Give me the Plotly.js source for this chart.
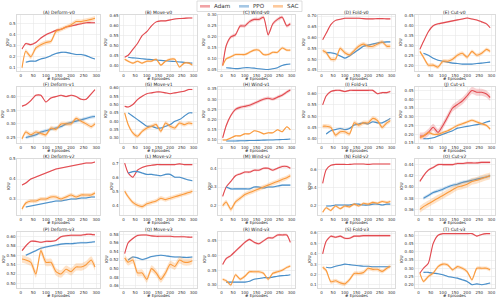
<!DOCTYPE html>
<html>
<head>
<meta charset="utf-8">
<script src="https://cdn.plot.ly/plotly-3.0.1.min.js"></script>
<style>html,body{margin:0;padding:0;background:#fff;}#chart{width:500px;height:300px;}</style>
</head>
<body>
<div id="chart"></div>
<script>
// ---------- data ----------
const episodes = [5,20,40,60,80,100,120,140,160,180,200,220,240,260,280,295];
const ppoEpisodes = [20,40,60,80,100,120,140,160,180,200,220,240,260,280,295];
const seriesNames = ['Adam','PPO','SAC'];
const panelTitles = ['(A) Deform-v0','(B) Move-v0','(C) Wind-v0','(D) Fold-v0','(E) Cut-v0',
  '(F) Deform-v1','(G) Move-v1','(H) Wind-v1','(I) Fold-v1','(J) Cut-v1',
  '(K) Deform-v2','(L) Move-v2','(M) Wind-v2','(N) Fold-v2','(O) Cut-v2',
  '(P) Deform-v3','(Q) Move-v3','(R) Wind-v3','(S) Fold-v3','(T) Cut-v3'];

const adamIoU = [
  [0.27,0.32,0.31,0.33,0.37,0.40,0.42,0.44,0.45,0.47,0.48,0.49,0.50,0.51,0.51,0.51],
  [0.44,0.45,0.48,0.51,0.55,0.57,0.60,0.62,0.625,0.625,0.63,0.635,0.637,0.638,0.64,0.64],
  [0.07,0.16,0.20,0.21,0.25,0.25,0.27,0.28,0.28,0.29,0.21,0.26,0.28,0.29,0.25,0.26],
  [0.59,0.62,0.66,0.68,0.685,0.69,0.69,0.69,0.69,0.688,0.687,0.687,0.688,0.688,0.687,0.687],
  [0.28,0.32,0.37,0.40,0.41,0.415,0.42,0.425,0.43,0.435,0.44,0.435,0.43,0.42,0.41,0.39],
  [0.365,0.37,0.385,0.405,0.405,0.38,0.395,0.40,0.405,0.40,0.405,0.40,0.39,0.39,0.41,0.425],
  [0.49,0.485,0.50,0.53,0.55,0.565,0.57,0.575,0.575,0.57,0.565,0.57,0.575,0.58,0.59,0.59],
  [0.11,0.17,0.22,0.25,0.26,0.265,0.27,0.28,0.29,0.30,0.305,0.30,0.31,0.32,0.335,0.345],
  [0.55,0.59,0.61,0.615,0.615,0.61,0.615,0.615,0.615,0.615,0.615,0.615,0.60,0.605,0.605,0.61],
  [0.19,0.19,0.21,0.24,0.21,0.25,0.30,0.35,0.37,0.39,0.42,0.45,0.44,0.44,0.43,0.41],
  [0.37,0.38,0.40,0.41,0.42,0.43,0.44,0.45,0.455,0.46,0.465,0.47,0.475,0.48,0.48,0.485],
  [0.70,0.63,0.60,0.65,0.67,0.68,0.685,0.69,0.69,0.69,0.69,0.69,0.695,0.69,0.69,0.69],
  [0.25,0.30,0.33,0.36,0.37,0.38,0.38,0.39,0.39,0.40,0.40,0.39,0.40,0.41,0.41,0.40],
  [0.45,0.60,0.65,0.66,0.66,0.66,0.66,0.665,0.665,0.665,0.66,0.665,0.665,0.665,0.665,0.665],
  [0.41,0.42,0.43,0.435,0.44,0.44,0.44,0.44,0.442,0.442,0.443,0.443,0.443,0.444,0.444,0.444],
  [0.57,0.58,0.59,0.59,0.588,0.59,0.59,0.592,0.60,0.602,0.603,0.603,0.603,0.605,0.605,0.604],
  [0.535,0.56,0.57,0.577,0.578,0.578,0.576,0.575,0.575,0.575,0.575,0.574,0.574,0.574,0.573,0.573],
  [0.37,0.39,0.40,0.415,0.43,0.445,0.455,0.445,0.44,0.45,0.46,0.46,0.47,0.47,0.47,0.445],
  [0.40,0.52,0.57,0.56,0.57,0.55,0.55,0.57,0.57,0.575,0.575,0.575,0.575,0.575,0.575,0.575],
  [0.27,0.30,0.33,0.45,0.50,0.51,0.51,0.51,0.51,0.51,0.51,0.51,0.495,0.505,0.51,0.51]
];
const ppoIoU = [
  [0.15,0.16,0.16,0.18,0.19,0.21,0.23,0.24,0.24,0.23,0.22,0.22,0.21,0.19,0.18],
  [0.44,0.437,0.435,0.432,0.43,0.428,0.426,0.424,0.422,0.42,0.418,0.416,0.414,0.412,0.41],
  [0.06,0.058,0.056,0.057,0.06,0.06,0.058,0.055,0.053,0.052,0.055,0.06,0.07,0.075,0.077],
  [0.53,0.53,0.525,0.515,0.505,0.515,0.53,0.545,0.56,0.565,0.57,0.575,0.578,0.58,0.58],
  [0.26,0.25,0.235,0.225,0.22,0.215,0.21,0.208,0.205,0.205,0.205,0.208,0.21,0.213,0.215],
  [0.25,0.255,0.26,0.27,0.275,0.28,0.285,0.29,0.30,0.305,0.31,0.315,0.32,0.325,0.327],
  [0.45,0.43,0.41,0.39,0.37,0.37,0.36,0.36,0.37,0.38,0.40,0.41,0.43,0.45,0.45],
  [0.095,0.095,0.095,0.096,0.096,0.097,0.097,0.098,0.099,0.10,0.10,0.101,0.102,0.103,0.105],
  [0.42,0.435,0.44,0.445,0.44,0.445,0.46,0.465,0.47,0.465,0.475,0.47,0.47,0.48,0.49],
  [0.175,0.175,0.18,0.19,0.20,0.21,0.22,0.235,0.24,0.245,0.25,0.255,0.26,0.27,0.275],
  [0.26,0.265,0.27,0.275,0.28,0.285,0.29,0.29,0.295,0.30,0.30,0.305,0.305,0.31,0.31],
  [0.63,0.64,0.64,0.63,0.62,0.62,0.615,0.61,0.62,0.62,0.60,0.60,0.59,0.58,0.575],
  [0.30,0.29,0.29,0.29,0.29,0.29,0.30,0.30,0.295,0.30,0.30,0.305,0.31,0.31,0.31],
  [0.20,0.20,0.21,0.21,0.21,0.21,0.22,0.22,0.21,0.21,0.22,0.22,0.21,0.22,0.22],
  [0.38,0.385,0.39,0.393,0.396,0.40,0.403,0.405,0.408,0.41,0.412,0.414,0.416,0.418,0.42],
  [0.56,0.565,0.57,0.575,0.578,0.58,0.582,0.584,0.585,0.585,0.586,0.587,0.587,0.588,0.589],
  [0.52,0.527,0.525,0.521,0.524,0.528,0.53,0.531,0.53,0.528,0.527,0.527,0.526,0.526,0.527],
  [0.31,0.31,0.31,0.31,0.31,0.313,0.32,0.322,0.325,0.325,0.327,0.33,0.332,0.333,0.335],
  [0.27,0.265,0.28,0.29,0.30,0.295,0.29,0.285,0.28,0.28,0.275,0.275,0.275,0.275,0.275],
  [0.275,0.275,0.27,0.267,0.26,0.25,0.245,0.24,0.23,0.22,0.20,0.205,0.20,0.205,0.21]
];
const sacIoU = [
  [0.10,0.25,0.20,0.28,0.31,0.33,0.34,0.43,0.45,0.47,0.49,0.52,0.52,0.53,0.54,0.55],
  [0.43,0.42,0.41,0.42,0.41,0.42,0.42,0.43,0.40,0.42,0.43,0.43,0.39,0.41,0.41,0.40],
  [0.07,0.10,0.11,0.12,0.12,0.12,0.13,0.14,0.14,0.12,0.12,0.13,0.13,0.15,0.14,0.14],
  [0.54,0.53,0.50,0.50,0.55,0.53,0.52,0.54,0.56,0.57,0.56,0.56,0.57,0.58,0.56,0.56],
  [0.27,0.24,0.20,0.20,0.19,0.22,0.22,0.23,0.25,0.26,0.24,0.27,0.25,0.26,0.28,0.27],
  [0.245,0.27,0.26,0.27,0.265,0.26,0.285,0.28,0.30,0.30,0.30,0.32,0.31,0.30,0.29,0.30],
  [0.45,0.38,0.33,0.31,0.34,0.36,0.37,0.38,0.34,0.39,0.37,0.36,0.39,0.38,0.39,0.385],
  [0.10,0.10,0.11,0.12,0.12,0.13,0.13,0.145,0.14,0.13,0.135,0.135,0.15,0.14,0.165,0.15],
  [0.455,0.455,0.45,0.415,0.43,0.43,0.42,0.47,0.46,0.47,0.47,0.49,0.48,0.45,0.47,0.48],
  [0.18,0.19,0.21,0.20,0.20,0.21,0.22,0.235,0.25,0.26,0.27,0.28,0.27,0.26,0.25,0.23],
  [0.25,0.28,0.29,0.29,0.30,0.30,0.31,0.31,0.30,0.31,0.32,0.31,0.32,0.32,0.32,0.33],
  [0.50,0.46,0.42,0.40,0.39,0.41,0.42,0.43,0.45,0.44,0.45,0.46,0.47,0.48,0.49,0.50],
  [0.20,0.22,0.18,0.22,0.24,0.26,0.27,0.28,0.29,0.30,0.31,0.32,0.33,0.34,0.35,0.36],
  [0.13,0.18,0.15,0.20,0.17,0.20,0.19,0.22,0.20,0.23,0.22,0.24,0.23,0.25,0.24,0.25],
  [0.36,0.365,0.37,0.375,0.38,0.385,0.39,0.395,0.40,0.402,0.405,0.41,0.412,0.415,0.418,0.42],
  [0.552,0.55,0.545,0.52,0.57,0.545,0.545,0.525,0.52,0.53,0.525,0.535,0.535,0.54,0.55,0.535],
  [0.525,0.515,0.52,0.49,0.49,0.475,0.50,0.49,0.475,0.49,0.51,0.505,0.52,0.515,0.515,0.518],
  [0.32,0.315,0.30,0.335,0.32,0.33,0.345,0.345,0.345,0.34,0.32,0.34,0.345,0.35,0.36,0.365],
  [0.27,0.24,0.13,0.14,0.12,0.11,0.15,0.21,0.21,0.22,0.26,0.25,0.25,0.23,0.26,0.28],
  [0.27,0.22,0.25,0.27,0.31,0.325,0.32,0.29,0.31,0.30,0.28,0.23,0.30,0.30,0.30,0.29]
];
// spread (std-band half width) per panel: [Adam, PPO, SAC]
const bandWidth = [
  [0.008,0.006,0.02],[0.003,0.002,0.006],[0.008,0.002,0.006],[0.003,0.004,0.01],[0.004,0.003,0.01],
  [0.003,0.006,0.008],[0.004,0.003,0.012],[0.008,0.002,0.004],[0.004,0.004,0.01],[0.02,0.003,0.008],
  [0.004,0.004,0.01],[0.005,0.005,0.015],[0.006,0.005,0.012],[0.006,0.006,0.015],[0.002,0.003,0.006],
  [0.002,0.002,0.008],[0.002,0.002,0.008],[0.004,0.002,0.005],[0.01,0.005,0.02],[0.004,0.004,0.01]
];
const yRanges = [
  [0.07,0.58],[0.37,0.655],[0.045,0.30],[0.445,0.705],[0.17,0.455],
  [0.23,0.435],[0.27,0.605],[0.085,0.36],[0.38,0.63],[0.15,0.47],
  [0.22,0.50],[0.33,0.73],[0.15,0.45],[0.10,0.72],[0.35,0.45],
  [0.49,0.61],[0.455,0.585],[0.29,0.48],[0.07,0.61],[0.18,0.52]
];
const yDtick = [0.1,0.05,0.05,0.05,0.05, 0.05,0.05,0.05,0.05,0.05, 0.1,0.1,0.1,0.2,0.02, 0.02,0.02,0.05,0.1,0.05];
const xTicks = [0,50,100,150,200,250,300];

// ---------- styling ----------
const colors = ['#e24a50','#4a8fc9','#fa9a3c'];
const bandColors = ['rgba(226,74,80,0.25)','rgba(74,143,201,0.25)','rgba(250,154,60,0.28)'];
const legendColors = ['#f1a3a6','#a5c7e4','#fdc99c'];
const FONT = 'DejaVu Sans, sans-serif';
const colDom = [[17,100],[120,197],[218,295],[318,395],[415,495]];
const rowDom = [[15,71],[87,143],[159,215],[232,288]];
const W = 500, H = 300;

const data = [];
const layout = {
  width: W, height: H,
  margin: {l:0, r:0, t:0, b:0},
  paper_bgcolor: '#fff', plot_bgcolor: '#fff',
  showlegend: false,
  font: {family: FONT, color: '#333'},
  annotations: [], shapes: []
};

for (let i = 0; i < 20; i++) {
  const k = i + 1;
  const sfx = k === 1 ? '' : String(k);
  const xa = 'x' + sfx, ya = 'y' + sfx;
  const row = Math.floor(i / 5), col = i % 5;
  const series = [adamIoU[i], ppoIoU[i], sacIoU[i]];
  const xs = [episodes, ppoEpisodes, episodes];
  for (let s = 0; s < 3; s++) {
    const v = series[s], w = bandWidth[i][s];
    data.push({x: xs[s], y: v.map(q => q - w), xaxis: xa, yaxis: ya, mode: 'lines',
      line: {width: 0, shape: 'spline', smoothing: 0.6}, hoverinfo: 'skip', showlegend: false});
    data.push({x: xs[s], y: v.map(q => q + w), xaxis: xa, yaxis: ya, mode: 'lines',
      fill: 'tonexty', fillcolor: bandColors[s],
      line: {width: 0, shape: 'spline', smoothing: 0.6}, hoverinfo: 'skip', showlegend: false});
    data.push({x: xs[s], y: v, xaxis: xa, yaxis: ya, mode: 'lines', name: seriesNames[s],
      line: {color: colors[s], width: 1.1, shape: 'spline', smoothing: 0.6}, showlegend: false});
  }
  const xd = [colDom[col][0] / W, colDom[col][1] / W];
  const yd = [1 - rowDom[row][1] / H, 1 - rowDom[row][0] / H];
  const dt = yDtick[i];
  layout['xaxis' + sfx] = {
    domain: xd, anchor: ya, range: [-15, 315], tickvals: xTicks,
    showgrid: true, gridcolor: '#e8e8e8', gridwidth: 0.6, zeroline: false,
    showline: true, linecolor: '#cccccc', linewidth: 0.7, mirror: true, ticks: '',
    ticklabelstandoff: 0,
    tickfont: {size: 4, color: '#333', family: FONT}
  };
  layout['yaxis' + sfx] = {
    domain: yd, anchor: xa, range: yRanges[i], dtick: dt, tick0: 0,
    tickformat: dt >= 0.1 ? '.1f' : '.2f',
    showgrid: true, gridcolor: '#e8e8e8', gridwidth: 0.6, zeroline: false,
    showline: true, linecolor: '#cccccc', linewidth: 0.7, mirror: true, ticks: '',
    tickfont: {size: 4, color: '#333', family: FONT}
  };
  // panel title
  layout.annotations.push({
    text: panelTitles[i], xref: 'paper', yref: 'paper', borderpad: 0,
    x: (xd[0] + xd[1]) / 2, y: 1 - (rowDom[row][0] - 3) / H, xanchor: 'center', yanchor: 'middle',
    showarrow: false, font: {size: 4.5, color: '#222', family: FONT}
  });
  // x axis title
  layout.annotations.push({
    text: '# Episodes', xref: 'paper', yref: 'paper', borderpad: 0,
    x: (xd[0] + xd[1]) / 2, y: 1 - (rowDom[row][1] + 7.8) / H, xanchor: 'center', yanchor: 'middle',
    showarrow: false, font: {size: 4.1, color: '#222', family: FONT}
  });
  // y axis title
  const yOff = dt >= 0.1 ? 9 : 14;
  layout.annotations.push({
    text: 'IOU', xref: 'paper', yref: 'paper', textangle: -90, borderpad: 0,
    x: (colDom[col][0] - yOff) / W, y: (yd[0] + yd[1]) / 2, xanchor: 'center', yanchor: 'middle',
    showarrow: false, font: {size: 4.1, color: '#222', family: FONT}
  });
}

// ---------- legend (top centre) ----------
layout.shapes.push({type: 'rect', xref: 'paper', yref: 'paper', layer: 'above',
  x0: 197 / W, x1: 302 / W, y0: 1 - 11.5 / H, y1: 1 - 1 / H,
  line: {color: '#d0d0d0', width: 0.7}, fillcolor: 'rgba(255,255,255,0.9)'});
const legSampleX = [200, 239, 273];
const legTextX = [213, 252, 286];
for (let s = 0; s < 3; s++) {
  layout.shapes.push({type: 'line', xref: 'paper', yref: 'paper', layer: 'above',
    x0: legSampleX[s] / W, x1: (legSampleX[s] + 10) / W, y0: 1 - 6.3 / H, y1: 1 - 6.3 / H,
    line: {color: legendColors[s], width: 2.6}});
  layout.annotations.push({text: seriesNames[s], xref: 'paper', yref: 'paper', borderpad: 0,
    x: legTextX[s] / W, y: 1 - 6.3 / H, xanchor: 'left', yanchor: 'middle',
    showarrow: false, font: {size: 5.6, color: '#333', family: FONT}});
}

Plotly.newPlot('chart', data, layout, {staticPlot: true, displayModeBar: false});
</script>
</body>
</html>
